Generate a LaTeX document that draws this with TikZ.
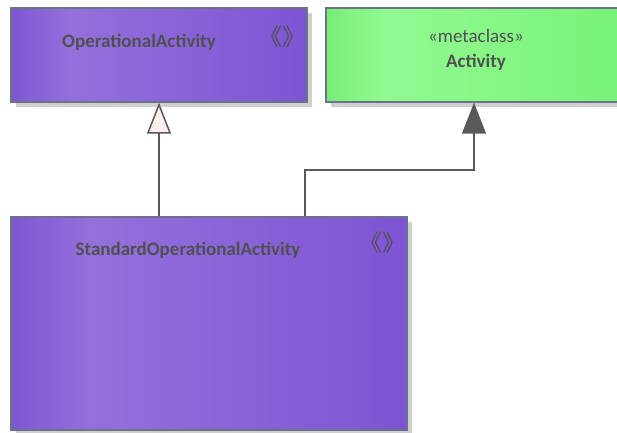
\documentclass[tikz,border=0pt]{standalone}
\usepackage{fontspec}
\setmainfont{Carlito}
\newfontfamily\cjkfont{Noto Sans CJK SC}
\usepackage{xcolor}
\usetikzlibrary{positioning,arrows.meta,shadows}
\definecolor{edgegray}{HTML}{6B7386}
\definecolor{linegray}{HTML}{595959}
\definecolor{textgray}{HTML}{505050}
\definecolor{shadowgray}{HTML}{CFCFCF}
\definecolor{tipfill}{HTML}{FBF0EB}
\pgfdeclarehorizontalshading{purplebar}{100bp}{rgb(0bp)=(0.49,0.34,0.83); rgb(25bp)=(0.49,0.34,0.83); rgb(35bp)=(0.58,0.44,0.86); rgb(75bp)=(0.49,0.33,0.83); rgb(100bp)=(0.49,0.33,0.83)}
\pgfdeclarehorizontalshading{greenbar}{100bp}{rgb(0bp)=(0.47,0.93,0.47); rgb(25bp)=(0.47,0.93,0.47); rgb(35bp)=(0.57,0.98,0.57); rgb(75bp)=(0.47,0.95,0.47); rgb(100bp)=(0.47,0.95,0.47)}

\begin{document}
\begin{tikzpicture}[
  x=1pt, y=-1pt,
  >=Stealth,
  umlbox/.style={draw=edgegray, line width=1.4pt, inner sep=0pt, drop shadow={shadow xshift=5pt, shadow yshift=-5pt, fill=shadowgray, opacity=1}},
  opbox/.style={umlbox, shading=purplebar},
  metabox/.style={umlbox, shading=greenbar},
  title/.style={font=\fontsize{19}{21}\selectfont\bfseries, text=textgray, inner sep=0pt},
  stereo/.style={font=\fontsize{19}{21}\selectfont, text=textgray, inner sep=0pt},
  icon/.style={font=\cjkfont\fontsize{23}{25}\selectfont, text=textgray, inner sep=0pt},
  gen/.style={draw=linegray, line width=1.5pt, -{Triangle[open, length=31pt, width=24pt, fill=tipfill]}},
  ext/.style={draw=linegray, line width=1.5pt, -{Triangle[length=31pt, width=24pt, fill=linegray]}},
]
\useasboundingbox (0,0) rectangle (617,432);
\node[opbox, minimum width=296pt, minimum height=94pt] (opact) at (159,55) {};
\node[metabox, minimum width=296pt, minimum height=94pt] (act) at (474,55) {};
\node[opbox, minimum width=396pt, minimum height=213pt] (stdop) at (209,323.5) {};
\node[title] (opname) at (139,42) {OperationalActivity};
\node[icon] (opicon) at (282,37) {《》};
\node[stereo] (metaname) at (476,36) {«metaclass»};
\node[title] (actname) at (476,62) {Activity};
\node[title] (stdname) at (188,250) {StandardOperationalActivity};
\node[icon] (stdicon) at (382,243) {《》};
\coordinate (elbow) at (474,170);
\draw[gen] (opact.south |- stdop.north) -- (opact.south);
\draw[ext] ([xshift=96pt]stdop.north) |- (elbow) -- (act.south);
\end{tikzpicture}
\end{document}
